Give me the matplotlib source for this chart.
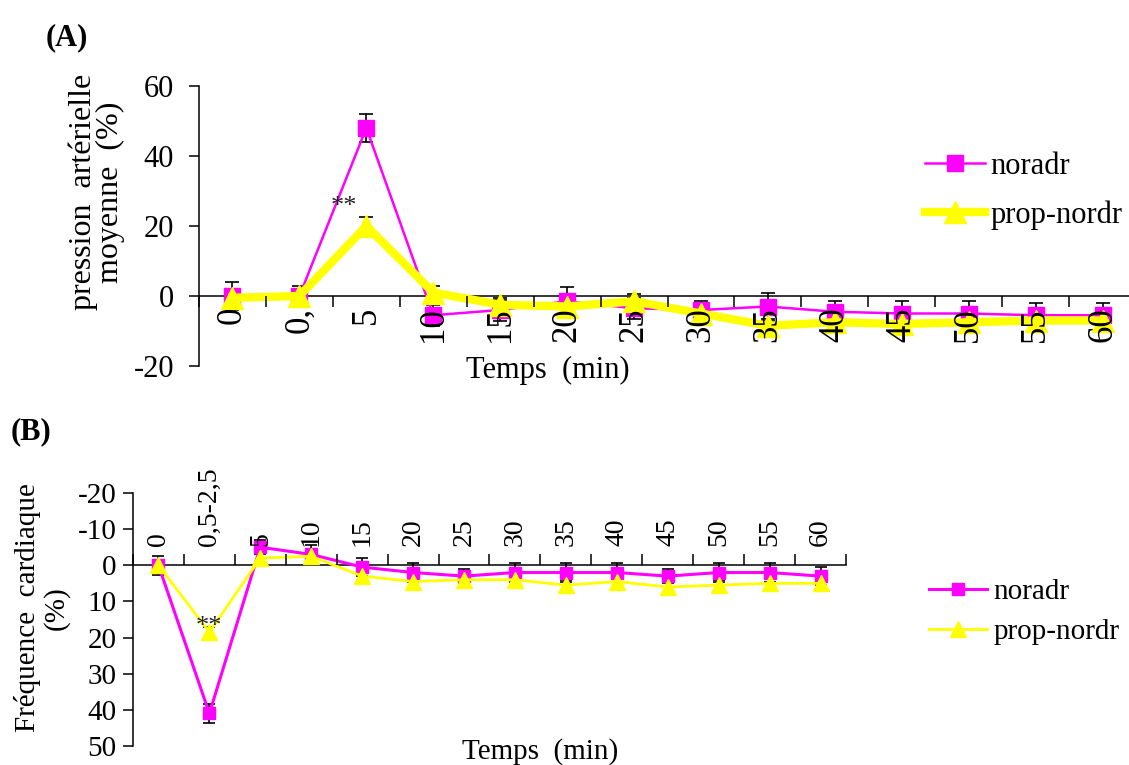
import matplotlib
matplotlib.use("Agg")
import matplotlib.pyplot as plt
import numpy as np

plt.rcParams['font.family'] = ['Liberation Serif', 'DejaVu Serif']
plt.rcParams['axes.unicode_minus'] = False

# ---------------- data ----------------
cats_A = ["0", "0,", "5", "10", "15", "20", "25", "30", "35", "40", "45", "50", "55", "60"]
cats_B = ["0", "0,5-2,5", "5", "10", "15", "20", "25", "30", "35", "40", "45", "50", "55", "60"]

pam_noradr = [0, 0, 48, -5.5, -4, -1.5, -3.5, -4, -3, -4.5, -5, -5, -5.5, -5.5]
pam_noradr_err = [4, 3, 4, 3, 3, 4, 3, 2.5, 4, 3, 3.5, 3.5, 3.5, 3.5]
pam_prop = [-0.5, 0, 20, 1, -2.5, -3, -1.5, -5, -8.5, -7.5, -8, -7.5, -7, -7]
pam_prop_err = [2, 2, 2.5, 2, 2, 2, 2, 2, 2, 2, 2, 2, 2, 2]

fc_noradr = [0, 41, -5, -3, 0.5, 2, 3, 2, 2, 2, 3, 2, 2, 3]
fc_noradr_err = [2.7, 2.7, 2, 2.5, 2.5, 2.5, 2, 2.5, 2.5, 2.5, 2, 2.5, 2.5, 2.5]
fc_prop = [0, 18.5, -2, -2.5, 3, 4.5, 4, 4, 5.5, 4.5, 6, 5.5, 5, 5]
fc_prop_err = [1.5, 1.5, 1.5, 1.5, 1.5, 1.5, 1.5, 1.5, 1.5, 1.5, 1.5, 1.5, 1.5, 1.5]

series_names = ["noradr", "prop-nordr"]
MAG = "#FF00FF"
YEL = "#FFFF00"

W, H = 1129, 765
fig = plt.figure(figsize=(W / 100, H / 100), dpi=100)


def fx(px):
    return px / W


def fy(py):
    return 1 - py / H


# ---------------- Panel A ----------------
axA = fig.add_axes([fx(199), fy(366), fx(1136 - 199), (366 - 86) / H])
xa = np.arange(len(cats_A))
axA.errorbar(xa, pam_noradr, yerr=pam_noradr_err, fmt='none', ecolor='black',
             elinewidth=1.2, capsize=5, capthick=1.2, zorder=2)
axA.errorbar(xa, pam_prop, yerr=pam_prop_err, fmt='none', ecolor='black',
             elinewidth=1.2, capsize=5, capthick=1.2, zorder=2)
axA.plot(xa, pam_noradr, color=MAG, lw=1.8, marker='s', ms=11, mec=MAG,
         label=series_names[0], zorder=3)
axA.plot(xa, pam_prop, color=YEL, lw=6, marker='^', ms=16, mec=YEL,
         label=series_names[1], zorder=4)

axA.set_xlim(-0.5, len(cats_A) - 0.5)
axA.set_ylim(-20, 60)
axA.set_yticks([-20, 0, 20, 40, 60])
axA.set_xticks(np.arange(-0.5, len(cats_A), 1))
axA.set_xticks(xa, minor=True)
axA.set_xticklabels(cats_A, minor=True)
axA.tick_params(axis='x', which='major', length=8, width=1.1, direction='out',
                labelbottom=False)
axA.tick_params(axis='x', which='minor', length=0, pad=8, labelsize=25,
                labelrotation=90)
axA.tick_params(axis='y', length=7, width=1.1, pad=11, labelsize=22)
axA.xaxis.set_zorder(5)
for s in ['top', 'right']:
    axA.spines[s].set_visible(False)
axA.spines['bottom'].set_position(('data', 0))
for s in ['bottom', 'left']:
    axA.spines[s].set_linewidth(1.1)

axA.text(1.67, 25.4, "**", fontsize=19, ha='center', va='center', color='#222222', zorder=6)

legA = axA.legend(loc='center left', bbox_to_anchor=(fx(925), fy(191)),
                  bbox_transform=fig.transFigure, frameon=False, fontsize=22,
                  handlelength=1.95, handletextpad=0.2, labelspacing=0.65,
                  borderpad=0, borderaxespad=0)

fig.text(fx(548), fy(370), "Temps  (min)", fontsize=22, ha='center', va='center')
fig.text(fx(97), fy(192), "pression  artérielle\nmoyenne  (%)", fontsize=23,
         rotation=90, ha='center', va='center', multialignment='center',
         linespacing=0.9)
fig.text(fx(67), fy(38), "(A)", fontsize=22, fontweight='bold', ha='center', va='center')

# ---------------- Panel B ----------------
axB = fig.add_axes([fx(133), fy(746), fx(846 - 133), (746 - 493) / H])
xb = np.arange(len(cats_B))
axB.errorbar(xb, fc_noradr, yerr=fc_noradr_err, fmt='none', ecolor='black',
             elinewidth=1.2, capsize=4, capthick=1.2, zorder=2)
axB.errorbar(xb, fc_prop, yerr=fc_prop_err, fmt='none', ecolor='black',
             elinewidth=1.2, capsize=4, capthick=1.2, zorder=2)
axB.plot(xb, fc_noradr, color=MAG, lw=2.2, marker='s', ms=9, mec=MAG,
         label=series_names[0], zorder=3)
axB.plot(xb, fc_prop, color=YEL, lw=2, marker='^', ms=11, mec=YEL,
         label=series_names[1], zorder=4)

axB.set_xlim(-0.5, len(cats_B) - 0.5)
axB.set_ylim(50, -20)
axB.set_yticks([-20, -10, 0, 10, 20, 30, 40, 50])
axB.set_xticks(np.arange(-0.5, len(cats_B), 1))
axB.set_xticks(xb, minor=True)
axB.set_xticklabels(cats_B, minor=True)
axB.xaxis.set_ticks_position('top')
axB.tick_params(axis='x', which='major', length=8, width=1.1, direction='out',
                top=True, bottom=False, labeltop=False, labelbottom=False)
axB.tick_params(axis='x', which='minor', length=0, pad=14, labelsize=20,
                top=True, bottom=False, labeltop=True, labelbottom=False,
                labelrotation=90)
axB.tick_params(axis='y', length=7, width=1.1, pad=5, labelsize=21)
axB.xaxis.set_zorder(5)
for s in ['bottom', 'right']:
    axB.spines[s].set_visible(False)
axB.spines['top'].set_position(('data', 0))
for s in ['top', 'left']:
    axB.spines[s].set_linewidth(1.1)

axB.text(1, 17.2, "**", fontsize=19, ha='center', va='center', color='#222222', zorder=6)

legB = axB.legend(loc='center left', bbox_to_anchor=(fx(929), fy(612)),
                  bbox_transform=fig.transFigure, frameon=False, fontsize=21,
                  handlelength=2.0, handletextpad=0.2, labelspacing=0.45,
                  borderpad=0, borderaxespad=0)

fig.text(fx(540), fy(752), "Temps  (min)", fontsize=21, ha='center', va='center')
fig.text(fx(42), fy(608), "Fréquence  cardiaque\n(%)", fontsize=21,
         rotation=90, ha='center', va='center', multialignment='center',
         linespacing=1.1)
fig.text(fx(31), fy(432), "(B)", fontsize=22, fontweight='bold', ha='center', va='center')

fig.savefig("out.png", dpi=100)
